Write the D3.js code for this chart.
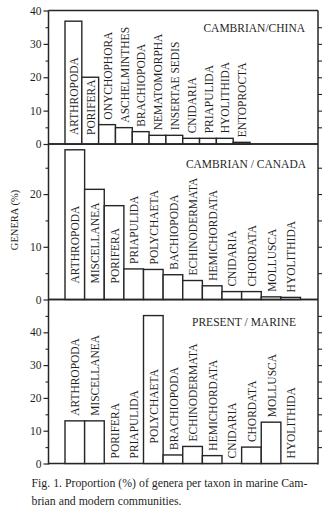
<!DOCTYPE html>
<html>
<head>
<meta charset="utf-8">
<script src="https://cdn.jsdelivr.net/npm/d3@7"></script>
<style>
    body { margin: 0; background: #fff; }
    text { font-family: "Liberation Serif", "Times New Roman", serif; fill: #1f1f1f; }
</style>
</head>
<body>
<div id="canvas"></div>
<script>
"use strict";

/* ---------------- DATA ---------------- */
let chinaTaxa = ["ARTHROPODA", "PORIFERA", "ONYCHOPHORA", "ASCHELMINTHES", "BRACHIOPODA",
    "NEMATOMORPHA", "INSERTAE SEDIS", "CNIDARIA", "PRIAPULIDA", "HYOLITHIDA", "ENTOPROCTA"];
let chinaValues = [36.8, 20, 5.8, 4.9, 3.7, 2.6, 2.6, 1.7, 1.7, 1.7, 0.5];

let canadaTaxa = ["ARTHROPODA", "MISCELLANEA", "PORIFERA", "PRIAPULIDA", "POLYCHAETA",
    "BACHIOPODA", "ECHINODERMATA", "HEMICHORDATA", "CNIDARIA", "CHORDATA", "MOLLUSCA", "HYOLITHIDA"];
let canadaValues = [28.4, 20.9, 17.8, 5.8, 5.7, 4.7, 3.6, 2.6, 1.5, 1.5, 0.5, 0.4];

let marineTaxa = ["ARTHROPODA", "MISCELLANEA", "PORIFERA", "PRIAPULIDA", "POLYCHAETA",
    "BRACHIOPODA", "ECHINODERMATA", "HEMICHORDATA", "CNIDARIA", "CHORDATA", "MOLLUSCA", "HYOLITHIDA"];
let marineValues = [13, 13, 0, 0, 45.1, 2.6, 5.2, 2.4, 0, 5, 12.6, 0];

let chinaTicks = [0, 10, 20, 30, 40];
let canadaTicks = [0, 10, 20];
let marineTicks = [0, 10, 20, 30, 40];

let panelTitles = ["CAMBRIAN/CHINA", "CAMBRIAN / CANADA", "PRESENT / MARINE"];
let yAxisTitle = "GENERA (%)";
let captionLines = [
    "Fig. 1. Proportion (%) of genera per taxon in marine Cam-",
    "brian and modern communities."
];

/* ---------------- LAYOUT ---------------- */
let svgWidth = 330;
let svgHeight = 514;

let frameLeft = 48.5;
let frameRight = 318;
let barsLeft = 65;
let ink = "#262626";

let svg = d3.select("#canvas")
    .append("svg")
    .attr("width", svgWidth)
    .attr("height", svgHeight);

let panels = [
    { taxa: chinaTaxa, values: chinaValues, ticks: chinaTicks, max: 40,
      top: 10.5, bottom: 144, barsRight: 250, insideGap: 9,
      title: panelTitles[0], titleX: 305, titleY: 31.5 },
    { taxa: canadaTaxa, values: canadaValues, ticks: canadaTicks, max: 29.5,
      top: 144, bottom: 299.5, barsRight: 300.5, insideGap: 16,
      title: panelTitles[1], titleX: 306, titleY: 167.5 },
    { taxa: marineTaxa, values: marineValues, ticks: marineTicks, max: 50,
      top: 299.5, bottom: 463.5, barsRight: 300.5, insideGap: 20,
      title: panelTitles[2], titleX: 296, titleY: 326 }
];

/* ---------------- FRAME ---------------- */
let frame = svg.append("g").attr("id", "frame");

frame.append("line")
    .attr("x1", frameLeft).attr("x2", frameLeft)
    .attr("y1", panels[0].top).attr("y2", panels[2].bottom + 1)
    .attr("stroke", ink).attr("stroke-width", 1.5);

frame.append("line")
    .attr("x1", frameRight).attr("x2", frameRight)
    .attr("y1", panels[0].top).attr("y2", panels[2].bottom + 1)
    .attr("stroke", ink).attr("stroke-width", 1.5);

/* ---------------- PANELS ---------------- */
panels.forEach(function (p) {

    let g = svg.append("g");

    let yScale = d3.scaleLinear()
        .domain([0, p.max])
        .range([p.bottom, p.top]);

    let xScale = d3.scaleBand()
        .domain(p.taxa)
        .range([barsLeft, p.barsRight])
        .padding(0);

    let minorTicks = d3.range(5, p.max, 10);
    let rightTicks = d3.range(5, p.max, 5);

    /* horizontal frame lines */
    [p.top, p.bottom].forEach(function (yy) {
        g.append("line")
            .attr("x1", frameLeft).attr("x2", frameRight)
            .attr("y1", yy).attr("y2", yy)
            .attr("stroke", ink).attr("stroke-width", 1.5);
    });

    /* left axis: labelled majors + short minors */
    let leftAxis = g.append("g")
        .attr("transform", "translate(" + frameLeft + ",0)")
        .call(d3.axisLeft(yScale).tickValues(p.ticks).tickSize(5).tickPadding(2));

    leftAxis.select(".domain").remove();
    leftAxis.selectAll("line").attr("stroke", ink).attr("stroke-width", 1.2);
    leftAxis.selectAll("text")
        .attr("font-size", "11.5px")
        .attr("font-family", "Liberation Serif")
        .attr("fill", "#1f1f1f");

    let leftMinor = g.append("g")
        .attr("transform", "translate(" + frameLeft + ",0)")
        .call(d3.axisLeft(yScale).tickValues(minorTicks).tickSize(3).tickFormat(""));

    leftMinor.select(".domain").remove();
    leftMinor.selectAll("line").attr("stroke", ink).attr("stroke-width", 1.1);

    /* right axis: ticks every 5 */
    let rightAxis = g.append("g")
        .attr("transform", "translate(" + frameRight + ",0)")
        .call(d3.axisRight(yScale).tickValues(rightTicks).tickSize(4).tickFormat(""));

    rightAxis.select(".domain").remove();
    rightAxis.selectAll("line").attr("stroke", ink).attr("stroke-width", 1.1);

    /* bars */
    let data = p.taxa.map(function (t, i) {
        return { taxon: t, value: p.values[i] };
    });

    g.selectAll("rect.bar")
        .data(data.filter(d => d.value > 0))
        .enter()
        .append("rect")
        .attr("class", "bar")
        .attr("x", d => xScale(d.taxon))
        .attr("y", d => yScale(d.value))
        .attr("width", xScale.bandwidth())
        .attr("height", d => p.bottom - yScale(d.value))
        .attr("fill", "white")
        .attr("stroke", ink)
        .attr("stroke-width", 1.4);

    /* rotated taxon labels: inside tall bars, above short ones */
    data.forEach(function (d) {
        let cx = xScale(d.taxon) + xScale.bandwidth() / 2;
        let barTop = yScale(d.value);

        let label = g.append("text")
            .attr("font-size", "11.5px")
            .attr("dy", "0.36em")
            .attr("text-anchor", "start")
            .text(d.taxon);

        let len = label.node().getComputedTextLength();
        let startY;

        if (len + 8 < p.bottom - barTop) {
            startY = p.bottom - p.insideGap;
        } else {
            startY = barTop - 5;
        }

        label.attr("transform",
            "translate(" + cx + "," + startY + ") rotate(-90) scale(1,1.12)");
    });

    /* panel title */
    g.append("text")
        .attr("x", p.titleX)
        .attr("y", p.titleY)
        .attr("text-anchor", "end")
        .attr("font-size", "11.5px")
        .text(p.title);
});

/* ---------------- Y AXIS TITLE ---------------- */
svg.append("text")
    .attr("transform", "translate(18,220) rotate(-90)")
    .attr("text-anchor", "middle")
    .attr("font-size", "10.5px")
    .text(yAxisTitle);

/* ---------------- CAPTION ---------------- */
captionLines.forEach(function (line, i) {
    svg.append("text")
        .attr("x", 31.5)
        .attr("y", 487 + i * 17.5)
        .attr("font-size", "11.8px")
        .text(line);
});
</script>
</body>
</html>
